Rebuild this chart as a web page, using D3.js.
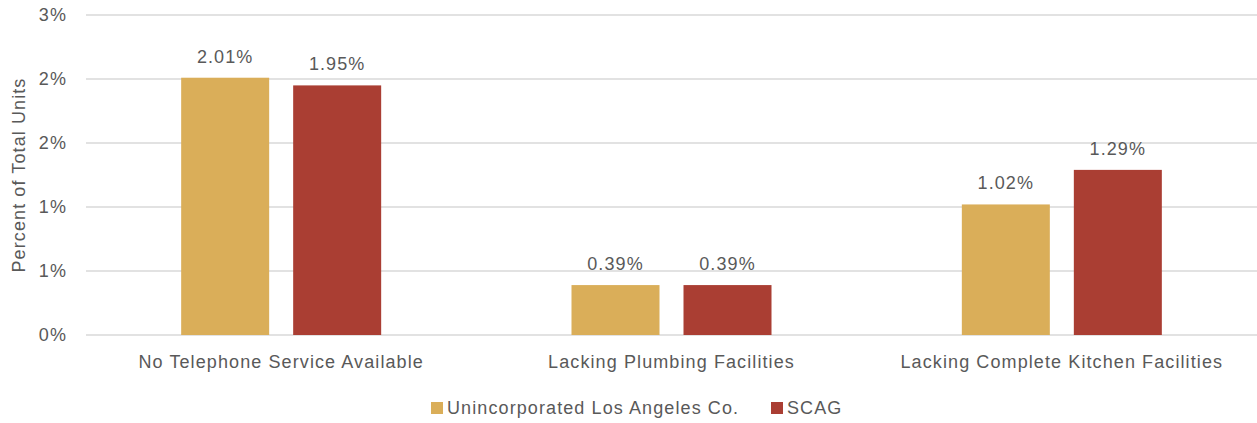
<!DOCTYPE html>
<html>
<head>
<meta charset="utf-8">
<script src="https://cdn.jsdelivr.net/npm/d3@7"></script>
<style>
  body { margin: 0; background: #fff; }
  svg text { font-family: "Liberation Sans", Arial, sans-serif; fill: #595959; }
</style>
</head>
<body>
<div id="viz1"></div>
<script>
// Data
const categories = ["No Telephone Service Available", "Lacking Plumbing Facilities", "Lacking Complete Kitchen Facilities"];
const seriesNames = ["Unincorporated Los Angeles Co.", "SCAG"];
const unincorporated = [2.01, 0.39, 1.02];
const scag = [1.95, 0.39, 1.29];
const yTicks = [0, 0.5, 1, 1.5, 2, 2.5];
const yTickLabels = ["0%", "1%", "1%", "2%", "2%", "3%"];
const seriesColors = ["#DAAE59", "#AA3E33"];

const w = 1257, h = 423;
const margin = {top: 15, right: 0, bottom: 88, left: 86};
const spacing = "1.1px"; // the original font runs wide

const svg = d3.select("#viz1").append("svg")
	.attr("width", w)
	.attr("height", h);

const yScale = d3.scaleLinear()
	.domain([0, 2.5])
	.range([h - margin.bottom, margin.top]);

const xScale = d3.scaleBand()
	.domain(categories)
	.range([margin.left, w - margin.right]);

// bar width 88, gap 24 -> inner group 200 wide
const xInner = d3.scaleBand()
	.domain(seriesNames)
	.range([0, 200])
	.paddingInner(24 / 112);

// gridlines
svg.append("g")
	.selectAll("line")
	.data(yTicks)
	.enter()
	.append("line")
	.attr("x1", margin.left)
	.attr("x2", w - margin.right)
	.attr("y1", d => yScale(d))
	.attr("y2", d => yScale(d))
	.attr("stroke", "#D9D9D9")
	.attr("stroke-width", 1.5);

// y tick labels
svg.append("g")
	.selectAll("text")
	.data(yTicks)
	.enter()
	.append("text")
	.attr("x", 67)
	.attr("y", d => yScale(d))
	.attr("dy", "0.35em")
	.attr("text-anchor", "end")
	.style("font-size", "18px")
	.style("letter-spacing", spacing)
	.text((d, i) => yTickLabels[i]);

// y axis title
svg.append("text")
	.attr("transform", "translate(25," + 175 + ") rotate(-90)")
	.attr("text-anchor", "middle")
	.style("font-size", "18px")
	.style("letter-spacing", spacing)
	.text("Percent of Total Units");

// bars
const rows = categories.map((c, i) => ({cat: c, vals: [unincorporated[i], scag[i]]}));

const groups = svg.append("g")
	.selectAll("g")
	.data(rows)
	.enter()
	.append("g")
	.attr("transform", d => "translate(" + (xScale(d.cat) + xScale.bandwidth() / 2 - 100) + ",0)");

groups.selectAll("rect")
	.data(d => d.vals.map((v, j) => ({name: seriesNames[j], v: v, j: j})))
	.enter()
	.append("rect")
	.attr("x", d => xInner(d.name))
	.attr("width", xInner.bandwidth())
	.attr("y", d => yScale(d.v))
	.attr("height", d => yScale(0) - yScale(d.v))
	.attr("fill", d => seriesColors[d.j]);

groups.selectAll("text")
	.data(d => d.vals.map((v, j) => ({name: seriesNames[j], v: v})))
	.enter()
	.append("text")
	.attr("x", d => xInner(d.name) + xInner.bandwidth() / 2)
	.attr("y", d => yScale(d.v) - 15)
	.attr("text-anchor", "middle")
	.style("font-size", "18px")
	.style("letter-spacing", spacing)
	.text(d => d.v.toFixed(2) + "%");

// category labels
svg.append("g")
	.selectAll("text")
	.data(categories)
	.enter()
	.append("text")
	.attr("x", d => xScale(d) + xScale.bandwidth() / 2)
	.attr("y", 368)
	.attr("text-anchor", "middle")
	.style("font-size", "18px")
	.style("letter-spacing", spacing)
	.text(d => d);

// legend
const legendX = [431, 771];
const legend = svg.append("g")
	.selectAll("g")
	.data(seriesNames)
	.enter()
	.append("g")
	.attr("transform", (d, i) => "translate(" + legendX[i] + ",402)");

legend.append("rect")
	.attr("width", 12)
	.attr("height", 12)
	.attr("fill", (d, i) => seriesColors[i]);

legend.append("text")
	.attr("x", 16)
	.attr("y", 6)
	.attr("dy", "0.35em")
	.style("font-size", "18px")
	.style("letter-spacing", spacing)
	.text(d => d);
</script>
</body>
</html>
